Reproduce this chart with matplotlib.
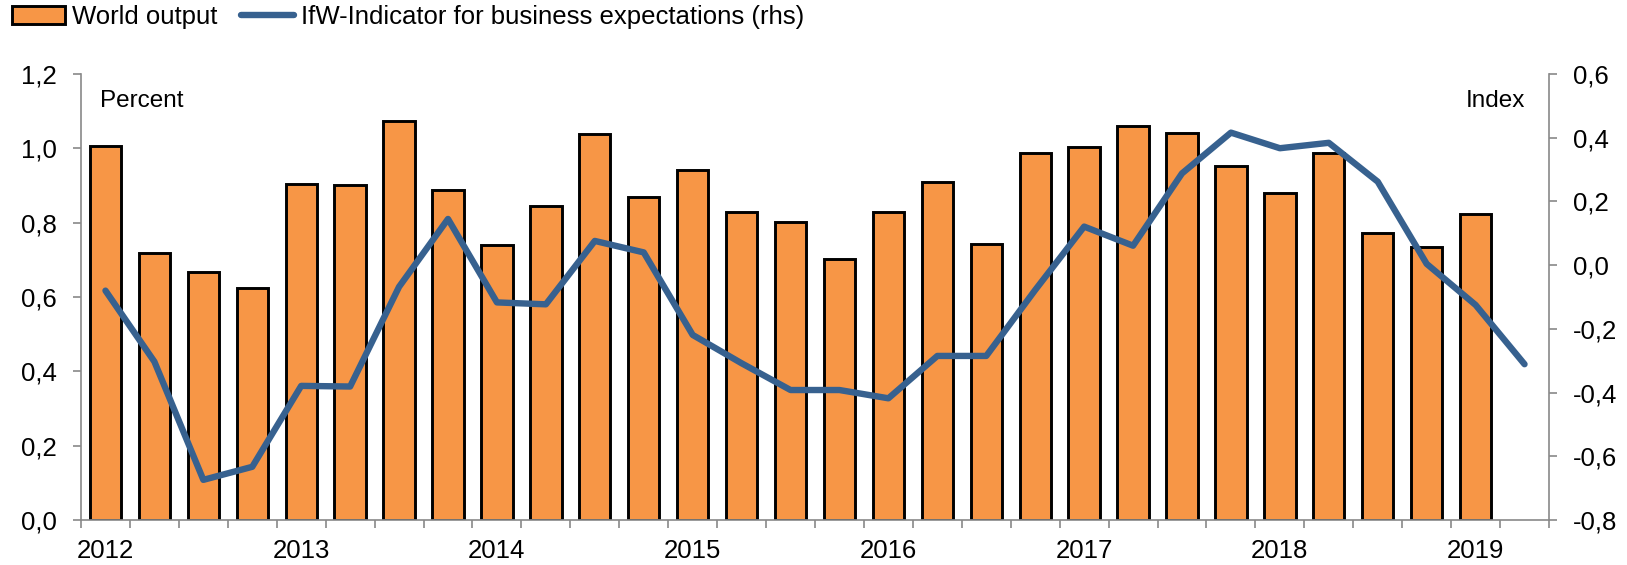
import matplotlib
matplotlib.use("Agg")
import matplotlib.pyplot as plt
import numpy as np

# ---------------- data ----------------
quarters = ["2012Q1", "2012Q2", "2012Q3", "2012Q4",
            "2013Q1", "2013Q2", "2013Q3", "2013Q4",
            "2014Q1", "2014Q2", "2014Q3", "2014Q4",
            "2015Q1", "2015Q2", "2015Q3", "2015Q4",
            "2016Q1", "2016Q2", "2016Q3", "2016Q4",
            "2017Q1", "2017Q2", "2017Q3", "2017Q4",
            "2018Q1", "2018Q2", "2018Q3", "2018Q4",
            "2019Q1", "2019Q2"]

world_output = [1.006, 0.719, 0.668, 0.625,
                0.905, 0.902, 1.074, 0.888,
                0.740, 0.845, 1.039, 0.869,
                0.942, 0.829, 0.803, 0.701,
                0.830, 0.909, 0.743, 0.987,
                1.003, 1.061, 1.042, 0.952,
                0.879, 0.988, 0.772, 0.735,
                0.822]

ifw_indicator = [-0.080, -0.303, -0.674, -0.633,
                 -0.379, -0.381, -0.068, 0.145,
                 -0.117, -0.123, 0.076, 0.040,
                 -0.219, -0.308, -0.392, -0.392,
                 -0.418, -0.285, -0.285, -0.078,
                 0.121, 0.061, 0.288, 0.416,
                 0.367, 0.384, 0.262, 0.004,
                 -0.125, -0.311]

year_labels = ["2012", "2013", "2014", "2015", "2016", "2017", "2018", "2019"]
left_ticks = [0.0, 0.2, 0.4, 0.6, 0.8, 1.0, 1.2]
left_tick_labels = ["0,0", "0,2", "0,4", "0,6", "0,8", "1,0", "1,2"]
right_ticks = [-0.8, -0.6, -0.4, -0.2, 0.0, 0.2, 0.4, 0.6]
right_tick_labels = ["-0,8", "-0,6", "-0,4", "-0,2", "0,0", "0,2", "0,4", "0,6"]

series_labels = ["World output", "IfW-Indicator for business expectations (rhs)"]

# ---------------- style ----------------
plt.rcParams['font.family'] = ['Liberation Sans', 'DejaVu Sans']
ORANGE = "#F79646"
BLUE = "#37618F"
GRAY = "#898989"
FS = 18.5

W, H = 1627, 565
fig = plt.figure(figsize=(W / 100, H / 100), dpi=100)
ax = fig.add_axes([81 / W, 1 - 520 / H, (1549 - 81) / W, (520 - 74) / H])
ax2 = ax.twinx()

n = len(quarters)
x_all = np.arange(n)
x_bar = x_all[:len(world_output)]

bars = ax.bar(x_bar, world_output, width=0.64, color=ORANGE,
              edgecolor="black", linewidth=2.1, zorder=2)
line, = ax2.plot(x_all, ifw_indicator, color=BLUE, linewidth=4.6,
                 solid_capstyle="round", solid_joinstyle="round", zorder=3)

ax.set_xlim(-0.5, n - 0.5)
ax.set_ylim(0, 1.2)
ax2.set_ylim(-0.8, 0.6)

# y ticks
ax.set_yticks(left_ticks)
ax.set_yticklabels(left_tick_labels)
ax2.set_yticks(right_ticks)
ax2.set_yticklabels(right_tick_labels)

# x ticks: boundaries as major ticks, year labels as minor ticks
ax.set_xticks(np.arange(-0.5, n, 1.0))
ax.set_xticklabels([])
year_pos = x_all[::4][:len(year_labels)]
ax.set_xticks(year_pos, minor=True)
ax.set_xticklabels(year_labels, minor=True)

for a in (ax, ax2):
    for s in a.spines.values():
        s.set_visible(False)

for side in ("left", "bottom"):
    ax.spines[side].set_visible(True)
    ax.spines[side].set_color(GRAY)
    ax.spines[side].set_linewidth(1.2)
ax2.spines["right"].set_visible(True)
ax2.spines["right"].set_color(GRAY)
ax2.spines["right"].set_linewidth(1.2)

ax.tick_params(axis="y", which="major", direction="out", length=6, width=1.2,
               color=GRAY, labelsize=FS, pad=11.5, labelcolor="black")
ax2.tick_params(axis="y", which="major", direction="out", length=6, width=1.2,
                color=GRAY, labelsize=FS, pad=11.5, labelcolor="black")
ax.tick_params(axis="x", which="major", direction="out", length=5.5, width=1.2,
               color=GRAY)
ax.tick_params(axis="x", which="minor", length=0, labelsize=FS, pad=14,
               labelcolor="black")

fig.text(100 / W, 1 - 107 / H, "Percent", fontsize=17.5, ha="left", va="baseline")
fig.text(1525 / W, 1 - 107 / H, "Index", fontsize=17.5, ha="right", va="baseline")

leg = fig.legend([bars, line], series_labels, loc="center left",
                 bbox_to_anchor=(12 / W, 1 - 17 / H), ncol=2, frameon=False,
                 fontsize=FS, handlelength=2.05, handleheight=0.65,
                 handletextpad=0.3, columnspacing=0.9, borderpad=0,
                 borderaxespad=0)

fig.savefig("out.png", dpi=100)
